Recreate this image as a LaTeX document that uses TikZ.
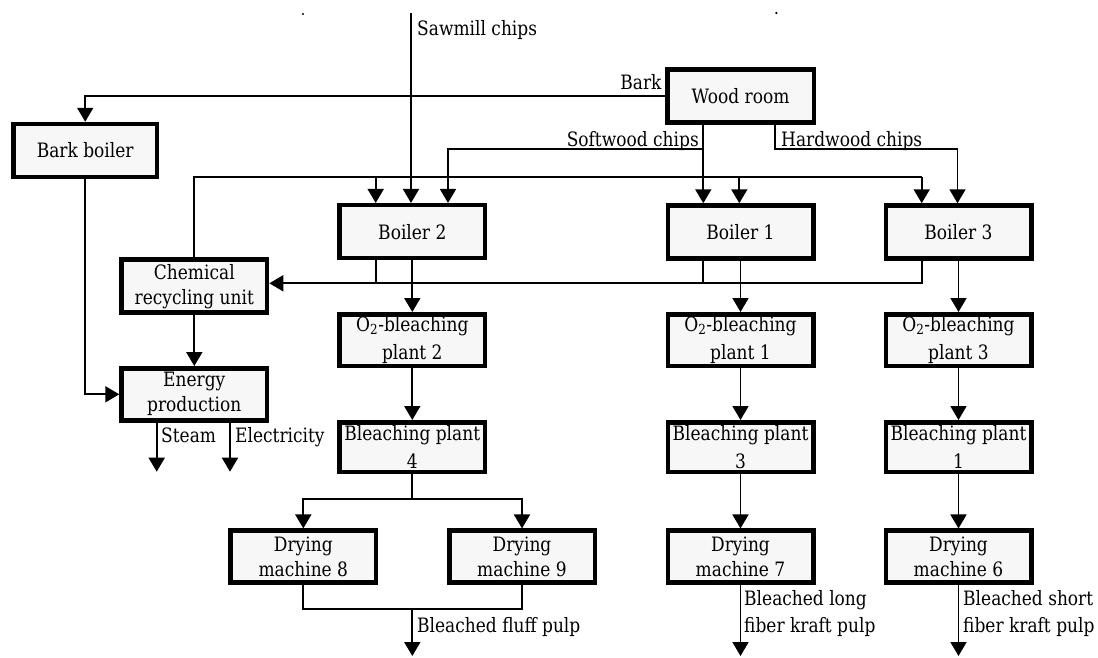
\documentclass[tikz,border=0pt]{standalone}
\usepackage{fontspec}
\setmainfont{DejaVu Serif}[FakeStretch=0.86]
\usetikzlibrary{arrows.meta}
\definecolor{boxfill}{HTML}{F7F7F7}

\begin{document}
\begin{tikzpicture}[x=1pt,y=-1pt,
  unit/.style={draw=black, line width=4.5pt, fill=boxfill,
    minimum width=145.5pt, minimum height=53pt, inner sep=0pt,
    align=center, font=\fontsize{19.8}{25}\selectfont},
  tallskip/.style={font=\fontsize{19.8}{28}\selectfont},
  lbl/.style={inner sep=0pt, font=\fontsize{19.8}{25}\selectfont},
  flow/.style={line width=1.8pt},
  arr/.style={flow, -{Triangle[width=16pt,length=14pt]}}
]
\fill[white] (0,0) rectangle (1098,657);
\useasboundingbox (0,0) rectangle (1098,657);

% process units
\node[unit, minimum width=146.5pt] (wood)  at (740.5,96.2) {Wood room};
\node[unit, minimum width=143.5pt] (bark)  at (85.2,150.5) {Bark boiler};
\node[unit] (b2) at (412.3,231.7) {Boiler 2};
\node[unit] (b1) at (740.5,232)   {Boiler 1};
\node[unit] (b3) at (958.5,232)   {Boiler 3};
\node[unit] (chem)   at (194.3,286.2) {Chemical\\recycling unit};
\node[unit, minimum height=52pt] (energy) at (194.3,394.3) {Energy\\production};
\node[unit, tallskip, minimum height=51.5pt] (o2a) at (412.3,340) {O\textsubscript{2}-bleaching\\plant 2};
\node[unit, tallskip, minimum height=51.5pt] (o2b) at (740.5,340) {O\textsubscript{2}-bleaching\\plant 1};
\node[unit, tallskip, minimum height=51.5pt] (o2c) at (958.5,340) {O\textsubscript{2}-bleaching\\plant 3};
\node[unit, tallskip, minimum height=49.5pt] (bp4) at (412.3,447) {Bleaching plant\\4};
\node[unit, tallskip, minimum height=49.5pt] (bp3) at (740.5,447) {Bleaching plant\\3};
\node[unit, tallskip, minimum height=49.5pt] (bp1) at (958.5,447) {Bleaching plant\\1};
\node[unit, minimum height=52pt] (dm8) at (303.3,556.7) {Drying\\machine 8};
\node[unit, minimum height=52pt] (dm9) at (522,556.7)   {Drying\\machine 9};
\node[unit, minimum height=52pt] (dm7) at (740.5,556.7) {Drying\\machine 7};
\node[unit, minimum height=52pt] (dm6) at (958.5,556.7) {Drying\\machine 6};

% routing points
\coordinate (saw)  at (411,13);
\coordinate (sw)   at (703.3,149);
\coordinate (swl)  at (448,149);
\coordinate (hw)   at (775,149);
\coordinate (hwr)  at (957.5,149);
\coordinate (lq)   at (194.3,177.3);
\coordinate (lq2)  at (375.7,177.3);
\coordinate (lq1)  at (739.3,177.3);
\coordinate (lq3)  at (921.7,177.3);
\coordinate (bl2)  at (375.7,283.3);
\coordinate (bl1)  at (703.3,283.3);
\coordinate (bl3)  at (921.7,283.3);
\coordinate (st)   at (156.7,471.7);
\coordinate (el)   at (230,471.7);
\coordinate (split) at (412.3,499);
\coordinate (merge) at (412.3,609.3);
\coordinate (out4) at (412.3,656);
\coordinate (out7) at (740.5,656);
\coordinate (out6) at (958.5,656);

% raw material feeds
\draw[arr] (saw) -- (saw |- b2.north);
\draw[arr] (wood.west) -| (bark.north);
\draw[arr] (wood.south -| sw) -- (sw |- b1.north);
\draw[arr] (sw) -- (swl) -- (swl |- b2.north);
\draw[arr] (wood.south -| hw) -- (hw) -- (hwr) -- (hwr |- b3.north);

% white liquor to the boilers
\draw[flow] (chem.north) -- (lq) -- (lq3);
\draw[arr] (lq2) -- (lq2 |- b2.north);
\draw[arr] (lq1) -- (lq1 |- b1.north);
\draw[arr] (lq3) -- (lq3 |- b3.north);

% black liquor back to recovery
\draw[flow] (b2.south -| bl2) -- (bl2);
\draw[flow] (b1.south -| bl1) -- (bl1);
\draw[arr] (b3.south -| bl3) -- (bl3) -- (bl3 -| chem.east);

% energy
\draw[arr] (chem) -- (energy);
\draw[arr] (bark.south) |- (energy.west);
\draw[arr] (energy.south -| st) -- (st);
\draw[arr] (energy.south -| el) -- (el);

% fibre lines
\draw[arr] (b2) -- (o2a);
\draw[arr] (b1) -- (o2b);
\draw[arr] (b3) -- (o2c);
\draw[arr] (o2a) -- (bp4);
\draw[arr] (o2b) -- (bp3);
\draw[arr] (o2c) -- (bp1);
\draw[flow] (bp4) -- (split);
\draw[arr] (split) -| (dm8.north);
\draw[arr] (split) -| (dm9.north);
\draw[arr] (bp3) -- (dm7);
\draw[arr] (bp1) -- (dm6);
\draw[flow] (dm8.south) |- (merge) -| (dm9.south);
\draw[arr] (merge) -- (out4);
\draw[arr] (dm7) -- (out7);
\draw[arr] (dm6) -- (out6);

% stream labels
\node[lbl, anchor=base west] (lsaw)  at (417,35)    {Sawmill chips};
\node[lbl, anchor=base east] (lbark) at (661.7,89.3) {Bark};
\node[lbl, anchor=base east] (lsw)   at (699,146)   {Softwood chips};
\node[lbl, anchor=base west] (lhw)   at (781,146)   {Hardwood chips};
\node[lbl, anchor=base west] (lst)   at (161,442.7) {Steam};
\node[lbl, anchor=base west] (lel)   at (235,442.7) {Electricity};
\node[lbl, anchor=base west] (lfl)   at (417,632.7) {Bleached fluff pulp};
\node[lbl, anchor=base west] (llo1)  at (744,605)   {Bleached long};
\node[lbl, anchor=base west] (llo2)  at (744,632.7) {fiber kraft pulp};
\node[lbl, anchor=base west] (lsh1)  at (963,605)   {Bleached short};
\node[lbl, anchor=base west] (lsh2)  at (963,632.7) {fiber kraft pulp};

% stray marks at the top edge
\fill (303,14) circle (1.2pt);
\fill (776.4,13) circle (1.2pt);
\end{tikzpicture}
\end{document}
